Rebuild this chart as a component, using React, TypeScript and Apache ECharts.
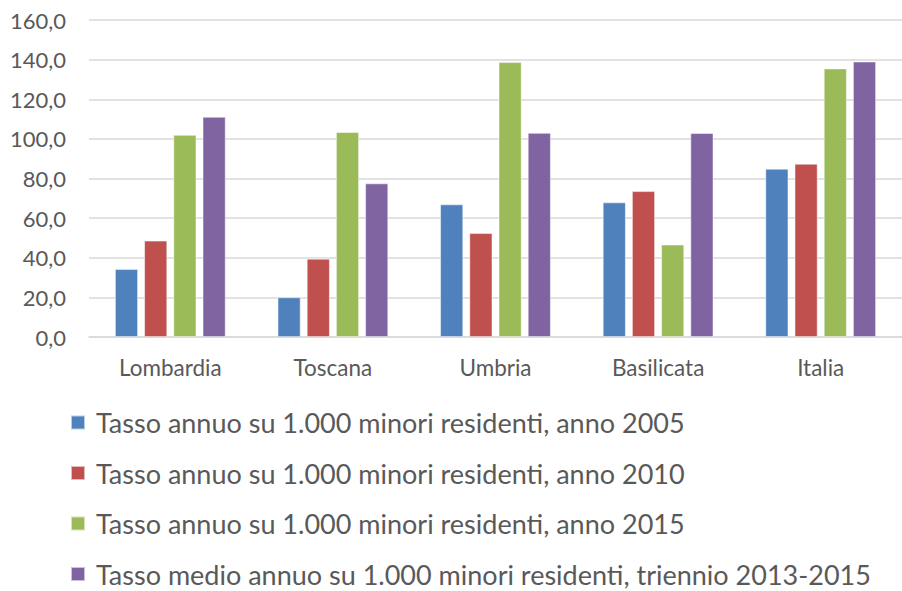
import React, { useEffect, useRef } from "react";
import * as echarts from "echarts";

const categories = ["Lombardia", "Toscana", "Umbria", "Basilicata", "Italia"];
const seriesNames = [
  "Tasso annuo su 1.000 minori residenti, anno 2005",
  "Tasso annuo su 1.000 minori residenti, anno 2010",
  "Tasso annuo su 1.000 minori residenti, anno 2015",
  "Tasso medio annuo su 1.000 minori residenti, triennio 2013-2015",
];
const values2005 = [34.3, 20.0, 66.9, 67.9, 84.9];
const values2010 = [48.6, 39.5, 52.4, 73.6, 87.4];
const values2015 = [102.0, 103.4, 138.7, 46.6, 135.5];
const valuesTriennio = [111.1, 77.5, 103.0, 102.9, 139.0];
const colors = ["#4F81BD", "#C0504D", "#9BBB59", "#8064A2"];

export default function App() {
  const ref = useRef<HTMLDivElement>(null);
  useEffect(() => {
    if (!ref.current) return;
    const chart = echarts.init(ref.current, null, { renderer: "svg" });
    const data = [values2005, values2010, values2015, valuesTriennio];
    const font = "Lato, 'Open Sans', sans-serif";
    chart.setOption({
      animation: false,
      color: colors,
      grid: { left: 89, right: 0, top: 20, bottom: 254, containLabel: false },
      xAxis: {
        type: "category",
        data: categories,
        axisLine: { show: true, lineStyle: { color: "#D9D9D9", width: 1.5 } },
        axisTick: { show: false },
        axisLabel: { color: "#595959", fontSize: 22.5, fontFamily: font, margin: 19 },
      },
      yAxis: {
        type: "value",
        min: 0,
        max: 160,
        interval: 20,
        axisLine: { show: false },
        axisTick: { show: false },
        splitLine: { lineStyle: { color: "#D9D9D9", width: 1.5 } },
        axisLabel: {
          color: "#595959",
          fontSize: 22,
          fontFamily: font,
          margin: 23,
          formatter: (v: number) => v.toFixed(1).replace(".", ","),
        },
      },
      legend: {
        orient: "vertical",
        left: 70,
        top: 409,
        height: 200,
        padding: 0,
        itemWidth: 14,
        itemHeight: 14,
        itemGap: 23.5,
        icon: "rect",
        textStyle: { color: "#595959", fontSize: 27, fontFamily: font, padding: [0, 0, 0, 6] },
        data: seriesNames,
      },
      series: data.map((d, i) => ({
        name: seriesNames[i],
        type: "bar",
        data: d,
        barWidth: 23,
        barGap: "27%",
        itemStyle: { color: colors[i], borderColor: "rgba(255,255,255,0.6)", borderWidth: 0.8 },
      })),
    });
    return () => chart.dispose();
  }, []);
  return (
    <div
      ref={ref}
      style={{ position: "fixed", left: 0, top: 0, width: 902, height: 591, background: "#fff" }}
    />
  );
}
